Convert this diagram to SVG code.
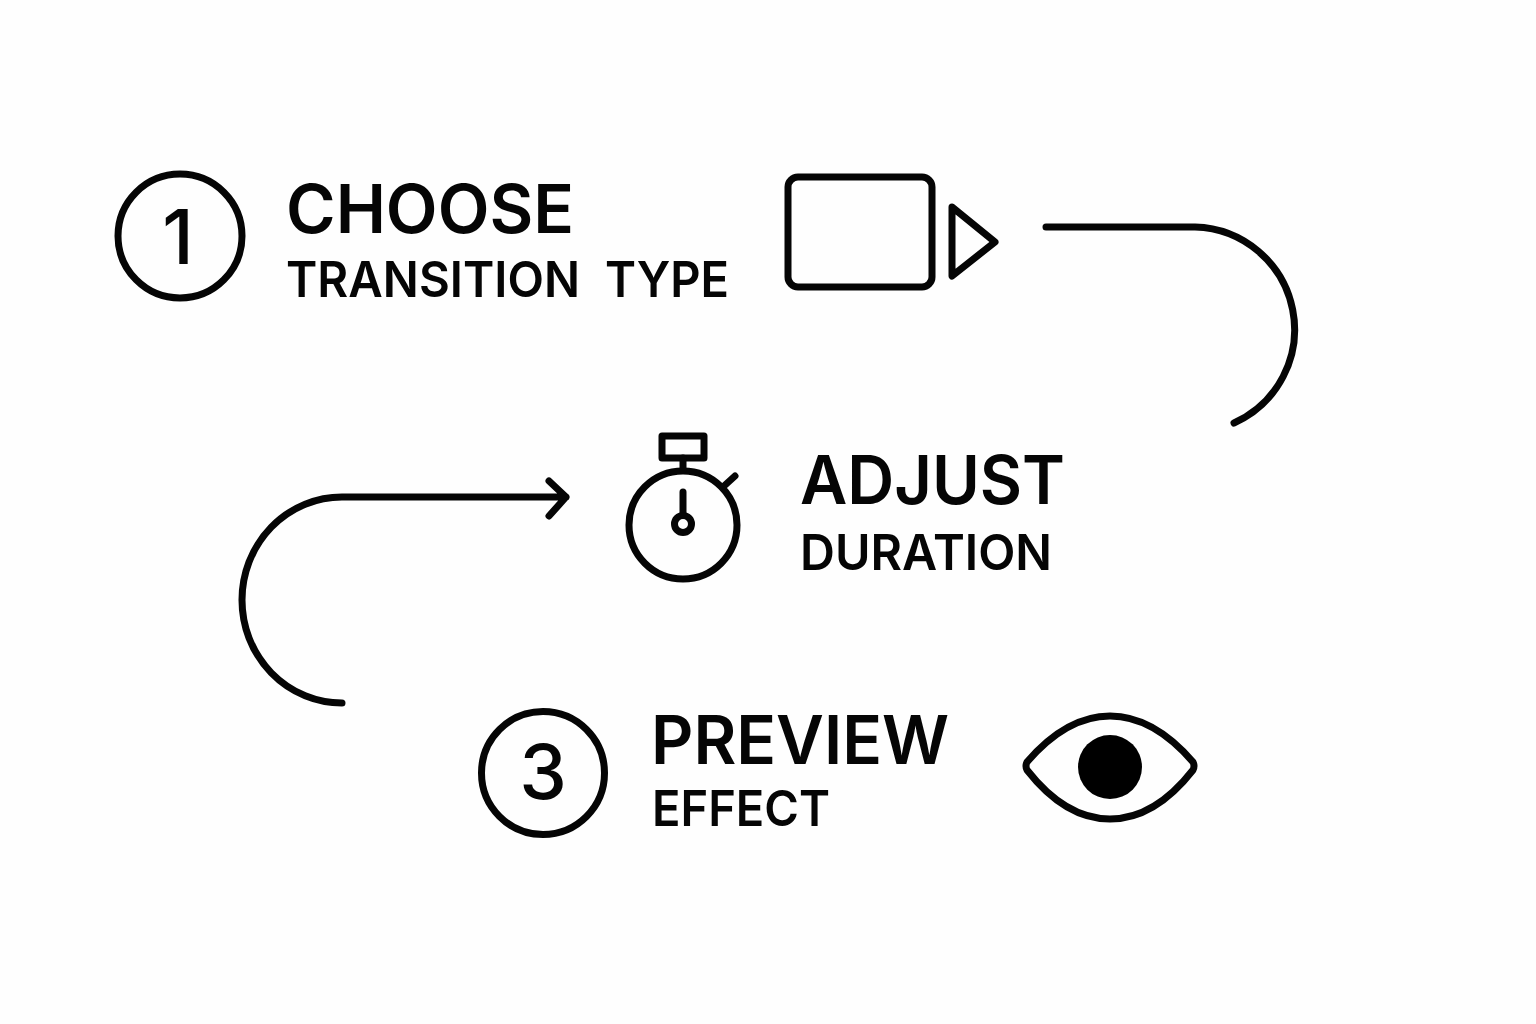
<svg xmlns="http://www.w3.org/2000/svg" width="1536" height="1024" viewBox="0 0 1536 1024">
<style>
.l{fill:none;stroke:#050505;stroke-width:7;stroke-linecap:round;stroke-linejoin:round}
.h{font-family:Inter,"Liberation Sans",sans-serif;font-weight:600;font-size:67px;fill:#050505}
.s{font-family:Inter,"Liberation Sans",sans-serif;font-weight:600;font-size:50px;fill:#050505}
.n{font-family:Inter,"Liberation Sans",sans-serif;font-weight:500;font-size:76px;fill:#050505;text-anchor:middle}
</style>
<rect width="1536" height="1024" fill="#fefefe"/>
<g id="connectors">
<path class="l" d="M1046 227H1195A102.500 102.500 0 0 1 1234 423"/>
<path class="l" d="M342 703A100 103 0 0 1 342 497H566M549 481L566 497L549 516"/>
</g>
<g id="step1">
<circle class="l" cx="180" cy="236" r="62"/>
<text class="n" x="178" y="264">1</text>
<text class="h" x="286" y="233" textLength="288" lengthAdjust="spacingAndGlyphs">CHOOSE</text>
<text class="s" x="286" y="297"><tspan textLength="294" lengthAdjust="spacingAndGlyphs">TRANSITION</tspan><tspan x="605" textLength="124" lengthAdjust="spacingAndGlyphs">TYPE</tspan></text>
<rect class="l" x="788" y="177" width="144" height="110" rx="10"/>
<path class="l" d="M952 207L995 242L952 276Z"/>
</g>
<g id="step2">
<circle class="l" cx="683" cy="525" r="54"/>
<rect class="l" x="662" y="436" width="42" height="22"/>
<path class="l" d="M683 458V470M724 486L735 476M683 492V515"/>
<circle class="l" cx="683" cy="524" r="8.500"/>
<text class="h" x="800" y="504" textLength="265" lengthAdjust="spacingAndGlyphs">ADJUST</text>
<text class="s" x="800" y="570" textLength="252" lengthAdjust="spacingAndGlyphs">DURATION</text>
</g>
<g id="step3">
<circle class="l" cx="543" cy="773" r="61.500"/>
<text class="n" x="543" y="799">3</text>
<text class="h" x="651" y="764" textLength="298" lengthAdjust="spacingAndGlyphs">PREVIEW</text>
<text class="s" x="652" y="826" textLength="178" lengthAdjust="spacingAndGlyphs">EFFECT</text>
<path class="l" d="M1027 762Q1025 766 1027 770C1052 802 1080 819 1110 819C1140 819 1168 802 1193 770Q1195 766 1193 762C1168 733 1140 716 1110 716C1080 716 1052 733 1027 762Z"/>
<circle cx="1110" cy="767" r="32" fill="#000"/>
</g>
</svg>
